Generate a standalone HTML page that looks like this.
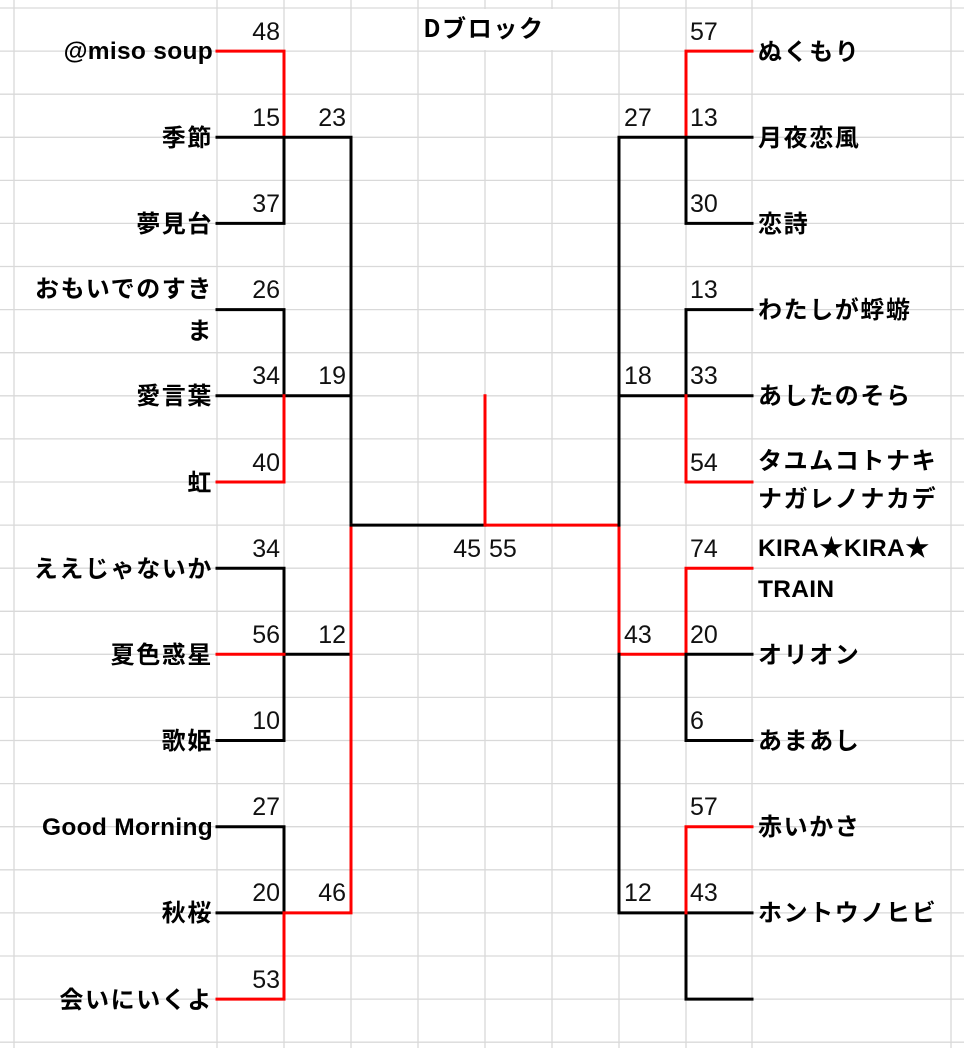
<!DOCTYPE html>
<html><head><meta charset="utf-8"><style>
html,body{margin:0;padding:0;background:#fff;}
svg{display:block;}
.n{font-family:"Liberation Sans","Noto Sans CJK JP",sans-serif;font-size:25px;fill:#111;}
.t{font-family:"Noto Sans CJK JP",sans-serif;font-size:24px;font-weight:bold;fill:#000;letter-spacing:1.6px;}
.l{font-family:"Liberation Sans","Noto Sans CJK JP",sans-serif;font-size:24.5px;font-weight:bold;fill:#000;letter-spacing:0.3px;}
</style></head><body>
<svg width="964" height="1048" viewBox="0 0 964 1048" xmlns="http://www.w3.org/2000/svg">
<g stroke="#d9d9d9" stroke-width="1.3">
<line x1="14" y1="0" x2="14" y2="1048"/><line x1="217" y1="0" x2="217" y2="1048"/><line x1="284" y1="0" x2="284" y2="1048"/><line x1="351" y1="0" x2="351" y2="1048"/><line x1="418" y1="0" x2="418" y2="1048"/><line x1="485" y1="0" x2="485" y2="1048"/><line x1="552" y1="0" x2="552" y2="1048"/><line x1="619" y1="0" x2="619" y2="1048"/><line x1="686" y1="0" x2="686" y2="1048"/><line x1="752" y1="0" x2="752" y2="1048"/><line x1="951" y1="0" x2="951" y2="1048"/>
<line x1="0" y1="8" x2="964" y2="8"/><line x1="0" y1="51.1" x2="964" y2="51.1"/><line x1="0" y1="94.2" x2="964" y2="94.2"/><line x1="0" y1="137.3" x2="964" y2="137.3"/><line x1="0" y1="180.4" x2="964" y2="180.4"/><line x1="0" y1="223.4" x2="964" y2="223.4"/><line x1="0" y1="266.5" x2="964" y2="266.5"/><line x1="0" y1="309.6" x2="964" y2="309.6"/><line x1="0" y1="352.7" x2="964" y2="352.7"/><line x1="0" y1="395.8" x2="964" y2="395.8"/><line x1="0" y1="438.9" x2="964" y2="438.9"/><line x1="0" y1="482" x2="964" y2="482"/><line x1="0" y1="525.1" x2="964" y2="525.1"/><line x1="0" y1="568.2" x2="964" y2="568.2"/><line x1="0" y1="611.3" x2="964" y2="611.3"/><line x1="0" y1="654.3" x2="964" y2="654.3"/><line x1="0" y1="697.4" x2="964" y2="697.4"/><line x1="0" y1="740.5" x2="964" y2="740.5"/><line x1="0" y1="783.6" x2="964" y2="783.6"/><line x1="0" y1="826.7" x2="964" y2="826.7"/><line x1="0" y1="869.8" x2="964" y2="869.8"/><line x1="0" y1="912.9" x2="964" y2="912.9"/><line x1="0" y1="956" x2="964" y2="956"/><line x1="0" y1="999.1" x2="964" y2="999.1"/><line x1="0" y1="1042.2" x2="964" y2="1042.2"/>
</g>
<rect x="419" y="9" width="199" height="41" fill="#fff"/>
<g fill="none" stroke-width="3" stroke-linecap="square">
<path d="M217 51.1H284V137.3" stroke="#f00"/>
<path d="M217 137.3H351V525.1M284 137.3V223.4H217" stroke="#000"/>
<path d="M217 309.6H284V395.8H351M284 395.8H217" stroke="#000"/>
<path d="M284 395.8V482H217" stroke="#f00"/>
<path d="M217 568.2H284V740.5H217M284 654.3H351" stroke="#000"/>
<path d="M217 654.3H284" stroke="#f00"/>
<path d="M217 826.7H284V912.9H217" stroke="#000"/>
<path d="M284 912.9V999.1H217M284 912.9H351V525.1" stroke="#f00"/>
<path d="M351 525.1H485" stroke="#000"/>
<path d="M485 395.8V525.1H619V654.3H686V568.2H752" stroke="#f00"/>
<path d="M752 51.1H686V137.3" stroke="#f00"/>
<path d="M752 137.3H619V525.1M686 137.3V223.4H752" stroke="#000"/>
<path d="M752 309.6H686V395.8H619M686 395.8H752" stroke="#000"/>
<path d="M686 395.8V482H752" stroke="#f00"/>
<path d="M619 654.3V912.9H752M686 654.3H752M686 654.3V740.5H752M686 912.9V999.1H752" stroke="#000"/>
<path d="M752 826.7H686V912.9" stroke="#f00"/>
</g>
<text x="484" y="37" class="t" text-anchor="middle">Dブロック</text>
<g class="t" text-anchor="end">
<text x="213" y="59" class="l">@miso soup</text>
<text x="213" y="146">季節</text>
<text x="213" y="232">夢見台</text>
<text x="213" y="297">おもいでのすき</text>
<text x="213" y="339">ま</text>
<text x="213" y="404">愛言葉</text>
<text x="213" y="491">虹</text>
<text x="213" y="577">ええじゃないか</text>
<text x="213" y="663">夏色惑星</text>
<text x="213" y="749">歌姫</text>
<text x="213" y="835" class="l">Good Morning</text>
<text x="213" y="921">秋桜</text>
<text x="213" y="1008">会いにいくよ</text>
</g>
<g class="t">
<text x="758" y="60">ぬくもり</text>
<text x="758" y="146">月夜恋風</text>
<text x="758" y="232">恋詩</text>
<text x="758" y="318">わたしが蜉蝣</text>
<text x="758" y="404">あしたのそら</text>
<text x="758" y="469">タユムコトナキ</text>
<text x="758" y="507">ナガレノナカデ</text>
<text x="758" y="556" class="l">KIRA★KIRA★</text>
<text x="758" y="597" class="l">TRAIN</text>
<text x="758" y="663">オリオン</text>
<text x="758" y="749">あまあし</text>
<text x="758" y="835">赤いかさ</text>
<text x="758" y="921">ホントウノヒビ</text>
</g>
<g class="n" text-anchor="end">
<text x="280" y="40">48</text>
<text x="280" y="126">15</text>
<text x="280" y="212">37</text>
<text x="280" y="298">26</text>
<text x="280" y="384">34</text>
<text x="280" y="471">40</text>
<text x="280" y="557">34</text>
<text x="280" y="643">56</text>
<text x="280" y="729">10</text>
<text x="280" y="815">27</text>
<text x="280" y="901">20</text>
<text x="280" y="988">53</text>
<text x="346" y="126">23</text>
<text x="346" y="384">19</text>
<text x="346" y="643">12</text>
<text x="346" y="901">46</text>
<text x="481" y="557">45</text>
</g>
<g class="n">
<text x="489" y="557">55</text>
<text x="624" y="126">27</text>
<text x="624" y="384">18</text>
<text x="624" y="643">43</text>
<text x="624" y="901">12</text>
<text x="690" y="40">57</text>
<text x="690" y="126">13</text>
<text x="690" y="212">30</text>
<text x="690" y="298">13</text>
<text x="690" y="384">33</text>
<text x="690" y="471">54</text>
<text x="690" y="557">74</text>
<text x="690" y="643">20</text>
<text x="690" y="729">6</text>
<text x="690" y="815">57</text>
<text x="690" y="901">43</text>
</g>
</svg>
</body></html>
